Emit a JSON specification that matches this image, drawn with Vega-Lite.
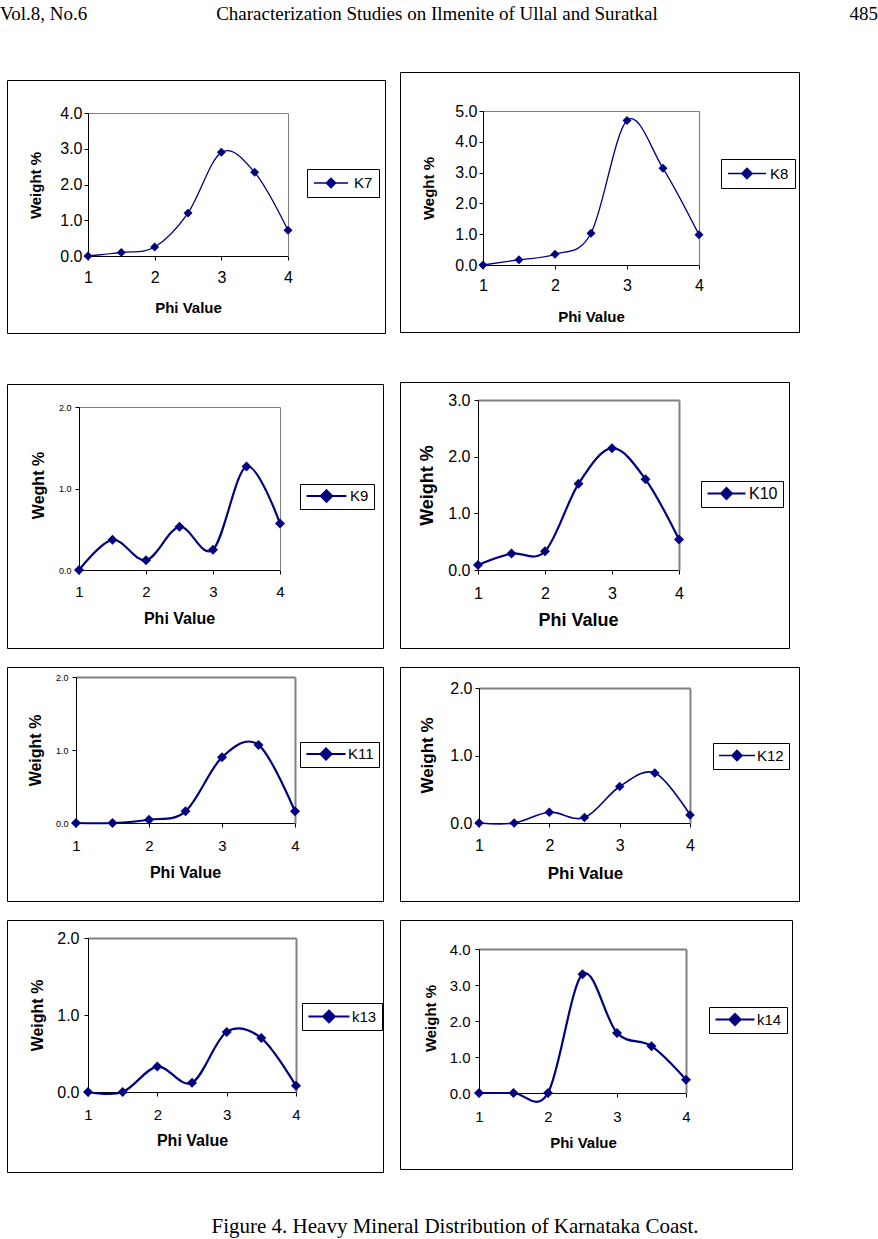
{
"$schema":"https://vega.github.io/schema/vega-lite/v6.json",
"padding":0,
"background":"white",
"datasets":{
"K7":[{"sample":"K7","phi":1,"weight":0},{"sample":"K7","phi":1.5,"weight":0.1},{"sample":"K7","phi":2,"weight":0.25},{"sample":"K7","phi":2.5,"weight":1.2},{"sample":"K7","phi":3,"weight":2.9},{"sample":"K7","phi":3.5,"weight":2.34},{"sample":"K7","phi":4,"weight":0.72}],
"K8":[{"sample":"K8","phi":1,"weight":0},{"sample":"K8","phi":1.5,"weight":0.17},{"sample":"K8","phi":2,"weight":0.35},{"sample":"K8","phi":2.5,"weight":1.03},{"sample":"K8","phi":3,"weight":4.69},{"sample":"K8","phi":3.5,"weight":3.14},{"sample":"K8","phi":4,"weight":0.98}],
"K9":[{"sample":"K9","phi":1,"weight":0},{"sample":"K9","phi":1.5,"weight":0.37},{"sample":"K9","phi":2,"weight":0.12},{"sample":"K9","phi":2.5,"weight":0.53},{"sample":"K9","phi":3,"weight":0.25},{"sample":"K9","phi":3.5,"weight":1.27},{"sample":"K9","phi":4,"weight":0.57}],
"K10":[{"sample":"K10","phi":1,"weight":0.09},{"sample":"K10","phi":1.5,"weight":0.29},{"sample":"K10","phi":2,"weight":0.33},{"sample":"K10","phi":2.5,"weight":1.52},{"sample":"K10","phi":3,"weight":2.15},{"sample":"K10","phi":3.5,"weight":1.6},{"sample":"K10","phi":4,"weight":0.54}],
"K11":[{"sample":"K11","phi":1,"weight":0},{"sample":"K11","phi":1.5,"weight":0},{"sample":"K11","phi":2,"weight":0.045},{"sample":"K11","phi":2.5,"weight":0.16},{"sample":"K11","phi":3,"weight":0.9},{"sample":"K11","phi":3.5,"weight":1.07},{"sample":"K11","phi":4,"weight":0.16}],
"K12":[{"sample":"K12","phi":1,"weight":0},{"sample":"K12","phi":1.5,"weight":0},{"sample":"K12","phi":2,"weight":0.16},{"sample":"K12","phi":2.5,"weight":0.08},{"sample":"K12","phi":3,"weight":0.54},{"sample":"K12","phi":3.5,"weight":0.74},{"sample":"K12","phi":4,"weight":0.12}],
"k13":[{"sample":"k13","phi":1,"weight":0},{"sample":"k13","phi":1.5,"weight":0},{"sample":"k13","phi":2,"weight":0.33},{"sample":"k13","phi":2.5,"weight":0.12},{"sample":"k13","phi":3,"weight":0.78},{"sample":"k13","phi":3.5,"weight":0.7},{"sample":"k13","phi":4,"weight":0.08}],
"k14":[{"sample":"k14","phi":1,"weight":0},{"sample":"k14","phi":1.5,"weight":0},{"sample":"k14","phi":2,"weight":0},{"sample":"k14","phi":2.5,"weight":3.3},{"sample":"k14","phi":3,"weight":1.67},{"sample":"k14","phi":3.5,"weight":1.3},{"sample":"k14","phi":4,"weight":0.37}]
},
"config":{
"view":{"stroke":"black","strokeWidth":1},
"axis":{"grid":false,"labelFlush":false,"labelOverlap":false,"domainColor":"black","tickColor":"black","labelColor":"black","titleColor":"black","labelFont":"Liberation Sans","titleFont":"Liberation Sans","titleFontWeight":"bold","tickSize":4,"domainWidth":1,"tickWidth":1,"titleBaseline":"middle","titleAlign":"center"},
"legend":{"orient":"none","strokeColor":"black","fillColor":"white","labelFont":"Liberation Sans","labelColor":"black","symbolType":"M-1,0H1M-0.28,0L0,-0.28L0.28,0L0,0.28Z","symbolFillColor":"#000080","symbolStrokeColor":"#000080","symbolOpacity":1}
},
"resolve":{"scale":{"color":"independent"},"legend":{"color":"independent"}},
"spacing":43,
"vconcat":[
{"spacing":31,"resolve":{"scale":{"color":"independent"},"legend":{"color":"independent"}},"vconcat":[
{"width":871,"height":40,"view":{"stroke":null},
 "data":{"values":[{"slot":0,"label":"Vol.8, No.6"},{"slot":1,"label":"Characterization Studies on Ilmenite of Ullal and Suratkal"},{"slot":2,"label":"485"}]},
 "layer":[
  {"transform":[{"filter":"datum.slot === 0"}],"mark":{"type":"text","align":"left","baseline":"alphabetic","font":"Liberation Serif","fontSize":19,"color":"black"},
   "encoding":{"x":{"field":"slot","type":"quantitative","scale":{"domain":[0,1,2],"range":[-7,430,871]},"axis":null},"text":{"field":"label"}}},
  {"transform":[{"filter":"datum.slot === 1"}],"mark":{"type":"text","align":"center","baseline":"alphabetic","font":"Liberation Serif","fontSize":19,"color":"black"},
   "encoding":{"x":{"field":"slot","type":"quantitative","axis":null},"text":{"field":"label"}}},
  {"transform":[{"filter":"datum.slot === 2"}],"mark":{"type":"text","align":"right","baseline":"alphabetic","font":"Liberation Serif","fontSize":19,"color":"black"},
   "encoding":{"x":{"field":"slot","type":"quantitative","axis":null},"text":{"field":"label"}}}
 ]},
{"spacing":13,"resolve":{"scale":{"color":"independent"},"legend":{"color":"independent"}},"hconcat":[
 {"spacing":6,"resolve":{"scale":{"color":"independent"},"legend":{"color":"independent"}},"vconcat":[
  {"width":10,"height":1,"view":{"stroke":null},"data":{"values":[{"v":0}]},"mark":{"type":"point","opacity":0,"size":0},"encoding":{}},
  {"spacing":49,"resolve":{"scale":{"color":"independent"},"legend":{"color":"independent"}},"vconcat":[
  {"width":378,"height":253,"data":{"name":"K7"},
   "layer":[
    {"mark":{"type":"line","interpolate":"cardinal","tension":0,"strokeWidth":1.3},
     "encoding":{
      "x":{"field":"phi","type":"quantitative","scale":{"domain":[1,4],"range":[81,281],"nice":false,"zero":false},
        "axis":{"orient":"bottom","offset":-77,"values":[1,2,3,4],"format":"d","labelFontSize":16,"labelPadding":9,"title":"Phi Value","titleFontSize":15,"titleX":181,"titleY":51}},
      "y":{"field":"weight","type":"quantitative","scale":{"domain":[0,4],"range":[176,33],"nice":false,"zero":false},
        "axis":{"orient":"left","offset":-81,"values":[0,1,2,3,4],"format":".1f","labelFontSize":16,"labelPadding":2,"title":"Weight %","titleFontSize":15,"titleX":-53,"titleY":105,"titleAngle":-90}},
      "color":{"field":"sample","type":"nominal","scale":{"range":["#000080"]},
        "legend":{"title":null,"legendX":300,"legendY":89,"padding":6,"clipHeight":16,"symbolSize":1156,"symbolStrokeWidth":1.3,"labelFontSize":15,"labelOffset":5}}}},
    {"mark":{"type":"point","shape":"diamond","filled":true,"size":80,"color":"#000080","opacity":1},
     "encoding":{
      "x":{"field":"phi","type":"quantitative","axis":{"orient":"top","offset":-33,"domainColor":"#808080","domainWidth":1,"ticks":false,"labels":false,"title":null}},
      "y":{"field":"weight","type":"quantitative","axis":{"orient":"right","offset":-97,"domainColor":"#808080","domainWidth":1,"ticks":false,"labels":false,"title":null}}}}
   ],
   "resolve":{"axis":{"x":"independent","y":"independent"}}},
  {"spacing":17,"resolve":{"scale":{"color":"independent"},"legend":{"color":"independent"}},"vconcat":[
   {"width":376,"height":264,"data":{"name":"K9"},
    "layer":[
     {"mark":{"type":"line","interpolate":"cardinal","tension":0,"strokeWidth":2.2},
      "encoding":{
       "x":{"field":"phi","type":"quantitative","scale":{"domain":[1,4],"range":[72,273],"nice":false,"zero":false},
         "axis":{"orient":"bottom","offset":-78,"values":[1,2,3,4],"format":"d","labelFontSize":15,"labelPadding":10,"title":"Phi Value","titleFontSize":16,"titleX":172,"titleY":48}},
       "y":{"field":"weight","type":"quantitative","scale":{"domain":[0,2],"range":[186,23],"nice":false,"zero":false},
         "axis":{"orient":"left","offset":-72,"values":[0,1,2],"format":".1f","labelFontSize":9,"labelPadding":4,"title":"Weght %","titleFontSize":16,"titleX":-41,"titleY":101,"titleAngle":-90}},
       "color":{"field":"sample","type":"nominal","scale":{"range":["#000080"]},
         "legend":{"title":null,"legendX":293,"legendY":100,"padding":5,"clipHeight":14,"symbolSize":1600,"symbolStrokeWidth":2.2,"labelFontSize":15,"labelOffset":2}}}},
     {"mark":{"type":"point","shape":"diamond","filled":true,"size":100,"color":"#000080","opacity":1},
      "encoding":{
       "x":{"field":"phi","type":"quantitative","axis":{"orient":"top","offset":-23,"domainColor":"#808080","domainWidth":1,"ticks":false,"labels":false,"title":null}},
       "y":{"field":"weight","type":"quantitative","axis":{"orient":"right","offset":-103,"domainColor":"#808080","domainWidth":1,"ticks":false,"labels":false,"title":null}}}}
    ],
    "resolve":{"axis":{"x":"independent","y":"independent"}}},
   {"width":376,"height":234,"data":{"name":"K11"},
    "layer":[
     {"mark":{"type":"line","interpolate":"cardinal","tension":0,"strokeWidth":2.2},
      "encoding":{
       "x":{"field":"phi","type":"quantitative","scale":{"domain":[1,4],"range":[69,288],"nice":false,"zero":false},
         "axis":{"orient":"bottom","offset":-78,"values":[1,2,3,4],"format":"d","labelFontSize":15,"labelPadding":11,"title":"Phi Value","titleFontSize":16,"titleX":178,"titleY":49}},
       "y":{"field":"weight","type":"quantitative","scale":{"domain":[0,2],"range":[156,10],"nice":false,"zero":false},
         "axis":{"orient":"left","offset":-69,"values":[0,1,2],"format":".1f","labelFontSize":9,"labelPadding":4,"title":"Weight %","titleFontSize":16,"titleX":-41,"titleY":83,"titleAngle":-90}},
       "color":{"field":"sample","type":"nominal","scale":{"range":["#000080"]},
         "legend":{"title":null,"legendX":293,"legendY":75,"padding":5,"clipHeight":14,"symbolSize":1521,"symbolStrokeWidth":2.2,"labelFontSize":15,"labelOffset":1}}}},
     {"mark":{"type":"point","shape":"diamond","filled":true,"size":100,"color":"#000080","opacity":1},
      "encoding":{
       "x":{"field":"phi","type":"quantitative","axis":{"orient":"top","offset":-10,"domainColor":"#808080","domainWidth":2,"ticks":false,"labels":false,"title":null}},
       "y":{"field":"weight","type":"quantitative","axis":{"orient":"right","offset":-88,"domainColor":"#808080","domainWidth":2,"ticks":false,"labels":false,"title":null}}}}
    ],
    "resolve":{"axis":{"x":"independent","y":"independent"}}},
   {"width":376,"height":252,"data":{"name":"k13"},
    "layer":[
     {"mark":{"type":"line","interpolate":"cardinal","tension":0,"strokeWidth":2.2},
      "encoding":{
       "x":{"field":"phi","type":"quantitative","scale":{"domain":[1,4],"range":[81,289],"nice":false,"zero":false},
         "axis":{"orient":"bottom","offset":-80,"values":[1,2,3,4],"format":"d","labelFontSize":15,"labelPadding":11,"title":"Phi Value","titleFontSize":16,"titleX":185,"titleY":48}},
       "y":{"field":"weight","type":"quantitative","scale":{"domain":[0,2],"range":[172,18],"nice":false,"zero":false},
         "axis":{"orient":"left","offset":-81,"values":[0,1,2],"format":".1f","labelFontSize":16,"labelPadding":5,"title":"Weight %","titleFontSize":16,"titleX":-51,"titleY":95,"titleAngle":-90}},
       "color":{"field":"sample","type":"nominal","scale":{"range":["#000080"]},
         "legend":{"title":null,"legendX":295,"legendY":83,"padding":5,"clipHeight":17,"symbolSize":1681,"symbolStrokeWidth":2.2,"labelFontSize":15,"labelOffset":1}}}},
     {"mark":{"type":"point","shape":"diamond","filled":true,"size":100,"color":"#000080","opacity":1},
      "encoding":{
       "x":{"field":"phi","type":"quantitative","axis":{"orient":"top","offset":-18,"domainColor":"#808080","domainWidth":2,"ticks":false,"labels":false,"title":null}},
       "y":{"field":"weight","type":"quantitative","axis":{"orient":"right","offset":-87,"domainColor":"#808080","domainWidth":2,"ticks":false,"labels":false,"title":null}}}}
    ],
    "resolve":{"axis":{"x":"independent","y":"independent"}}}
  ]}
  ]}
 ]},
 {"spacing":48,"resolve":{"scale":{"color":"independent"},"legend":{"color":"independent"}},"vconcat":[
  {"width":399,"height":260,"data":{"name":"K8"},
   "layer":[
    {"mark":{"type":"line","interpolate":"cardinal","tension":0,"strokeWidth":1.3},
     "encoding":{
      "x":{"field":"phi","type":"quantitative","scale":{"domain":[1,4],"range":[83,299],"nice":false,"zero":false},
        "axis":{"orient":"bottom","offset":-67,"values":[1,2,3,4],"format":"d","labelFontSize":16,"labelPadding":8,"title":"Phi Value","titleFontSize":15,"titleX":191,"titleY":51}},
      "y":{"field":"weight","type":"quantitative","scale":{"domain":[0,5],"range":[193,39],"nice":false,"zero":false},
        "axis":{"orient":"left","offset":-83,"values":[0,1,2,3,4,5],"format":".1f","labelFontSize":16,"labelPadding":2,"title":"Weght %","titleFontSize":15,"titleX":-55,"titleY":116,"titleAngle":-90}},
      "color":{"field":"sample","type":"nominal","scale":{"range":["#000080"]},
        "legend":{"title":null,"legendX":321,"legendY":87,"padding":6,"clipHeight":17,"symbolSize":1444,"symbolStrokeWidth":1.3,"labelFontSize":15,"labelOffset":3}}}},
    {"mark":{"type":"point","shape":"diamond","filled":true,"size":80,"color":"#000080","opacity":1},
     "encoding":{
      "x":{"field":"phi","type":"quantitative","axis":{"orient":"top","offset":-39,"domainColor":"#808080","domainWidth":1.2,"ticks":false,"labels":false,"title":null}},
      "y":{"field":"weight","type":"quantitative","axis":{"orient":"right","offset":-100,"domainColor":"#808080","domainWidth":1.2,"ticks":false,"labels":false,"title":null}}}}
   ],
   "resolve":{"axis":{"x":"independent","y":"independent"}}},
  {"spacing":17,"resolve":{"scale":{"color":"independent"},"legend":{"color":"independent"}},"vconcat":[
   {"width":389,"height":266,"data":{"name":"K10"},
    "layer":[
     {"mark":{"type":"line","interpolate":"cardinal","tension":0,"strokeWidth":2.2},
      "encoding":{
       "x":{"field":"phi","type":"quantitative","scale":{"domain":[1,4],"range":[78,279],"nice":false,"zero":false},
         "axis":{"orient":"bottom","offset":-78,"values":[1,2,3,4],"format":"d","labelFontSize":16,"labelPadding":11,"title":"Phi Value","titleFontSize":18,"titleX":178,"titleY":50}},
       "y":{"field":"weight","type":"quantitative","scale":{"domain":[0,3],"range":[188,18],"nice":false,"zero":false},
         "axis":{"orient":"left","offset":-78,"values":[0,1,2,3],"format":".1f","labelFontSize":16,"labelPadding":4,"title":"Weight %","titleFontSize":18,"titleX":-51,"titleY":103,"titleAngle":-90}},
       "color":{"field":"sample","type":"nominal","scale":{"range":["#000080"]},
         "legend":{"title":null,"legendX":301,"legendY":99,"padding":5,"clipHeight":15,"symbolSize":1444,"symbolStrokeWidth":2.2,"labelFontSize":16,"labelOffset":2}}}},
     {"mark":{"type":"point","shape":"diamond","filled":true,"size":100,"color":"#000080","opacity":1},
      "encoding":{
       "x":{"field":"phi","type":"quantitative","axis":{"orient":"top","offset":-18,"domainColor":"#808080","domainWidth":2,"ticks":false,"labels":false,"title":null}},
       "y":{"field":"weight","type":"quantitative","axis":{"orient":"right","offset":-110,"domainColor":"#808080","domainWidth":2,"ticks":false,"labels":false,"title":null}}}}
    ],
    "resolve":{"axis":{"x":"independent","y":"independent"}}},
   {"width":399,"height":234,"data":{"name":"K12"},
    "layer":[
     {"mark":{"type":"line","interpolate":"cardinal","tension":0,"strokeWidth":1.6},
      "encoding":{
       "x":{"field":"phi","type":"quantitative","scale":{"domain":[1,4],"range":[79,290],"nice":false,"zero":false},
         "axis":{"orient":"bottom","offset":-78,"values":[1,2,3,4],"format":"d","labelFontSize":16,"labelPadding":10,"title":"Phi Value","titleFontSize":17,"titleX":185,"titleY":50}},
       "y":{"field":"weight","type":"quantitative","scale":{"domain":[0,2],"range":[156,21],"nice":false,"zero":false},
         "axis":{"orient":"left","offset":-79,"values":[0,1,2],"format":".1f","labelFontSize":16,"labelPadding":3,"title":"Weight %","titleFontSize":17,"titleX":-52,"titleY":88,"titleAngle":-90}},
       "color":{"field":"sample","type":"nominal","scale":{"range":["#000080"]},
         "legend":{"title":null,"legendX":313,"legendY":76,"padding":5,"clipHeight":15,"symbolSize":1296,"symbolStrokeWidth":1.6,"labelFontSize":15,"labelOffset":1}}}},
     {"mark":{"type":"point","shape":"diamond","filled":true,"size":90,"color":"#000080","opacity":1},
      "encoding":{
       "x":{"field":"phi","type":"quantitative","axis":{"orient":"top","offset":-21,"domainColor":"#808080","domainWidth":2,"ticks":false,"labels":false,"title":null}},
       "y":{"field":"weight","type":"quantitative","axis":{"orient":"right","offset":-109,"domainColor":"#808080","domainWidth":2,"ticks":false,"labels":false,"title":null}}}}
    ],
    "resolve":{"axis":{"x":"independent","y":"independent"}}},
   {"width":392,"height":249,"data":{"name":"k14"},
    "layer":[
     {"mark":{"type":"line","interpolate":"cardinal","tension":0,"strokeWidth":2.2},
      "encoding":{
       "x":{"field":"phi","type":"quantitative","scale":{"domain":[1,4],"range":[79,286],"nice":false,"zero":false},
         "axis":{"orient":"bottom","offset":-76,"values":[1,2,3,4],"format":"d","labelFontSize":15,"labelPadding":12,"title":"Phi Value","titleFontSize":15,"titleX":183,"titleY":49}},
       "y":{"field":"weight","type":"quantitative","scale":{"domain":[0,4],"range":[173,29],"nice":false,"zero":false},
         "axis":{"orient":"left","offset":-79,"values":[0,1,2,3,4],"format":".1f","labelFontSize":15,"labelPadding":5,"title":"Weight %","titleFontSize":15,"titleX":-49,"titleY":98,"titleAngle":-90}},
       "color":{"field":"sample","type":"nominal","scale":{"range":["#000080"]},
         "legend":{"title":null,"legendX":309,"legendY":87,"padding":5,"clipHeight":15,"symbolSize":1521,"symbolStrokeWidth":2.2,"labelFontSize":15,"labelOffset":1}}}},
     {"mark":{"type":"point","shape":"diamond","filled":true,"size":100,"color":"#000080","opacity":1},
      "encoding":{
       "x":{"field":"phi","type":"quantitative","axis":{"orient":"top","offset":-29,"domainColor":"#808080","domainWidth":2,"ticks":false,"labels":false,"title":null}},
       "y":{"field":"weight","type":"quantitative","axis":{"orient":"right","offset":-106,"domainColor":"#808080","domainWidth":2,"ticks":false,"labels":false,"title":null}}}}
    ],
    "resolve":{"axis":{"x":"independent","y":"independent"}}}
  ]}
 ]}
]}
]},
{"width":871,"height":16,"view":{"stroke":null},
 "data":{"values":[{"slot":1,"label":"Figure 4. Heavy Mineral Distribution of Karnataka Coast."}]},
 "mark":{"type":"text","align":"center","baseline":"alphabetic","font":"Liberation Serif","fontSize":21,"color":"black"},
 "encoding":{"x":{"field":"slot","type":"quantitative","scale":{"domain":[0,1,2],"range":[-7,448,871]},"axis":null},"text":{"field":"label"}}}
]
}
